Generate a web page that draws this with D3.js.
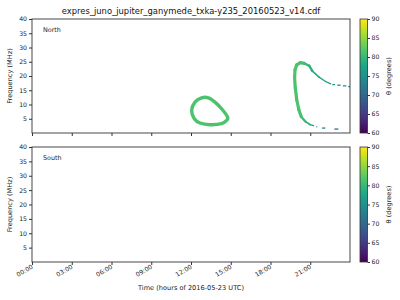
<!DOCTYPE html>
<html>
<head>
<meta charset="utf-8">
<script src="https://cdn.jsdelivr.net/npm/d3@7"></script>
<style>
  body { margin: 0; background: #fff; }
  svg { font-family: "DejaVu Sans", sans-serif; }
</style>
</head>
<body>
<script>
// frequency ticks (MHz) and time ticks (hours)
var freqTicks = [5, 10, 15, 20, 25, 30, 35, 40]
var hourTicks = [0, 3, 6, 9, 12, 15, 18, 21]
var hourLabels = ["00:00", "03:00", "06:00", "09:00", "12:00", "15:00", "18:00", "21:00"]
var thetaTicks = [60, 65, 70, 75, 80, 85, 90]

// north hemisphere: closed loop around 12-15h
var loopTime = [12.80, 12.30, 12.05, 12.25, 12.68, 13.43, 14.31, 14.69, 14.76, 14.31, 13.81, 13.31]
var loopFreq = [12.36, 10.85, 7.91, 5.00, 3.50, 2.90, 3.26, 4.41, 5.60, 8.50, 10.85, 12.36]
var loopTheta = [81.5, 81.5, 81.5, 81.5, 81.5, 81.5, 81.5, 81.5, 81.5, 81.5, 81.5, 81.5]

// north hemisphere: arc around 20-22h (continuous part)
var arcTime = [21.25, 21.00, 20.63, 20.32, 20.14, 19.98, 19.87, 19.82, 19.85, 19.98, 20.25, 20.55, 20.93, 21.15, 21.66, 22.16, 22.54]
var arcFreq = [2.56, 2.91, 4.06, 5.71, 8.16, 11.66, 15.86, 19.36, 22.16, 23.91, 24.71, 24.43, 23.56, 21.80, 19.60, 18.06, 17.26]
var arcTheta = [76, 78, 80, 81, 81.5, 81.5, 81.5, 81.5, 81.5, 81.5, 81.5, 81, 80, 79, 78, 77, 76]

// sparse samples at the ends of the arc
var tailStart = [22.67, 23.04, 23.47, 23.87, 21.46, 21.89, 22.82]
var tailEnd = [22.87, 23.29, 23.72, 24.00, 21.53, 22.14, 23.12]
var tailFreq = [17.0, 16.8, 16.56, 16.3, 2.2, 1.75, 1.4]
var tailTheta = [76, 75, 75, 74, 74, 73, 71]

var width = 400
var height = 300
var left = 32, right = 350
var panels = [{name: "North", top: 19, bottom: 133}, {name: "South", top: 147, bottom: 262}]

var svg = d3.select("body").append("svg")
  .attr("width", width)
  .attr("height", height)

var xScale = d3.scaleLinear().domain([0, 24]).range([left, right])
var color = d3.scaleSequential(d3.interpolateViridis).domain([60, 90])

// gradient for the colorbars
var grad = svg.append("defs").append("linearGradient")
  .attr("id", "viridis").attr("x1", 0).attr("y1", 1).attr("x2", 0).attr("y2", 0)
d3.range(0, 1.01, 0.05).forEach(function(t) {
  grad.append("stop").attr("offset", t).attr("stop-color", d3.interpolateViridis(t))
})

svg.append("text")
  .attr("x", (left + right) / 2)
  .attr("y", 14)
  .attr("text-anchor", "middle")
  .attr("font-size", 8.4)
  .attr("fill", "#111")
  .text("expres_juno_jupiter_ganymede_txka-y235_20160523_v14.cdf")

panels.forEach(function(p, pi) {
  var yScale = d3.scaleLinear().domain([0, 40]).range([p.bottom, p.top])
  var g = svg.append("g")

  // y axis
  var yAxis = d3.axisLeft(yScale).tickValues(freqTicks).tickSize(3).tickPadding(2)
  var ya = g.append("g").attr("transform", "translate(" + left + ",0)").call(yAxis)
  ya.select(".domain").remove()
  ya.selectAll("text").attr("font-size", 6.2).attr("fill", "#222").attr("font-family", "DejaVu Sans")
  ya.selectAll("line").attr("stroke", "#333")

  // x axis
  var xAxis = d3.axisBottom(xScale).tickValues(hourTicks).tickSize(3)
    .tickFormat(function(d, i) { return pi == 1 ? hourLabels[i] : "" })
  var xa = g.append("g").attr("transform", "translate(0," + p.bottom + ")").call(xAxis)
  xa.select(".domain").remove()
  xa.selectAll("line").attr("stroke", "#333")
  xa.selectAll("text")
    .attr("font-size", 6.2).attr("fill", "#222").attr("font-family", "DejaVu Sans")
    .attr("text-anchor", "end")
    .attr("dy", null)
    .attr("y", 0)
    .attr("transform", "translate(1,6) rotate(-30)")

  g.append("text")
    .attr("transform", "translate(12," + ((p.top + p.bottom) / 2) + ") rotate(-90)")
    .attr("text-anchor", "middle")
    .attr("font-size", 6.6)
    .attr("fill", "#222")
    .text("Frequency (MHz)")

  g.append("text")
    .attr("x", 43)
    .attr("y", p.top + 13)
    .attr("font-size", 6.4)
    .attr("fill", "#222")
    .text(p.name)

  if (pi == 0) {
    var lineGen = d3.line()
      .x(function(d) { return xScale(d[0]) })
      .y(function(d) { return yScale(d[1]) })
      .curve(d3.curveCardinalClosed)
    g.append("path")
      .attr("d", lineGen(loopTime.map(function(t, i) { return [t, loopFreq[i]] })))
      .attr("fill", "none")
      .attr("stroke", color(d3.mean(loopTheta)))
      .attr("stroke-width", 3.4)

    // arc drawn segment by segment to follow theta
    for (var i = 0; i < arcTime.length - 1; i++) {
      var th = (arcTheta[i] + arcTheta[i + 1]) / 2
      g.append("line")
        .attr("x1", xScale(arcTime[i])).attr("y1", yScale(arcFreq[i]))
        .attr("x2", xScale(arcTime[i + 1])).attr("y2", yScale(arcFreq[i + 1]))
        .attr("stroke", color(th))
        .attr("stroke-width", th >= 81 ? 3.2 : th >= 79.5 ? 2.4 : th >= 78 ? 1.7 : 1.3)
        .attr("stroke-linecap", "round")
    }

    g.selectAll("rect.tail")
      .data(tailStart)
      .enter()
      .append("rect")
      .attr("x", function(d) { return xScale(d) })
      .attr("width", function(d, i) { return xScale(tailEnd[i]) - xScale(d) })
      .attr("y", function(d, i) { return yScale(tailFreq[i]) - 0.6 })
      .attr("height", 1.3)
      .attr("fill", function(d, i) { return color(tailTheta[i]) })
  }

  // frame
  g.append("rect")
    .attr("x", left).attr("y", p.top)
    .attr("width", right - left).attr("height", p.bottom - p.top)
    .attr("fill", "none").attr("stroke", "#333").attr("stroke-width", 0.9)

  // colorbar
  var cScale = d3.scaleLinear().domain([60, 90]).range([p.bottom, p.top])
  g.append("rect")
    .attr("x", 360).attr("y", p.top)
    .attr("width", 7.5).attr("height", p.bottom - p.top)
    .attr("fill", "url(#viridis)")
    .attr("stroke", "#333").attr("stroke-width", 0.8)
  var ca = g.append("g").attr("transform", "translate(367.5,0)")
    .call(d3.axisRight(cScale).tickValues(thetaTicks).tickSize(2.5).tickPadding(1.5))
  ca.select(".domain").remove()
  ca.selectAll("line").attr("stroke", "#333")
  ca.selectAll("text").attr("font-size", 6.2).attr("fill", "#222").attr("font-family", "DejaVu Sans")
  g.append("text")
    .attr("transform", "translate(391," + ((p.top + p.bottom) / 2) + ") rotate(-90)")
    .attr("text-anchor", "middle")
    .attr("font-size", 6.6)
    .attr("fill", "#222")
    .text("θ (degrees)")
})

svg.append("text")
  .attr("x", (left + right) / 2)
  .attr("y", 290)
  .attr("text-anchor", "middle")
  .attr("font-size", 6.6)
  .attr("fill", "#222")
  .text("Time (hours of 2016-05-23 UTC)")
</script>
</body>
</html>
